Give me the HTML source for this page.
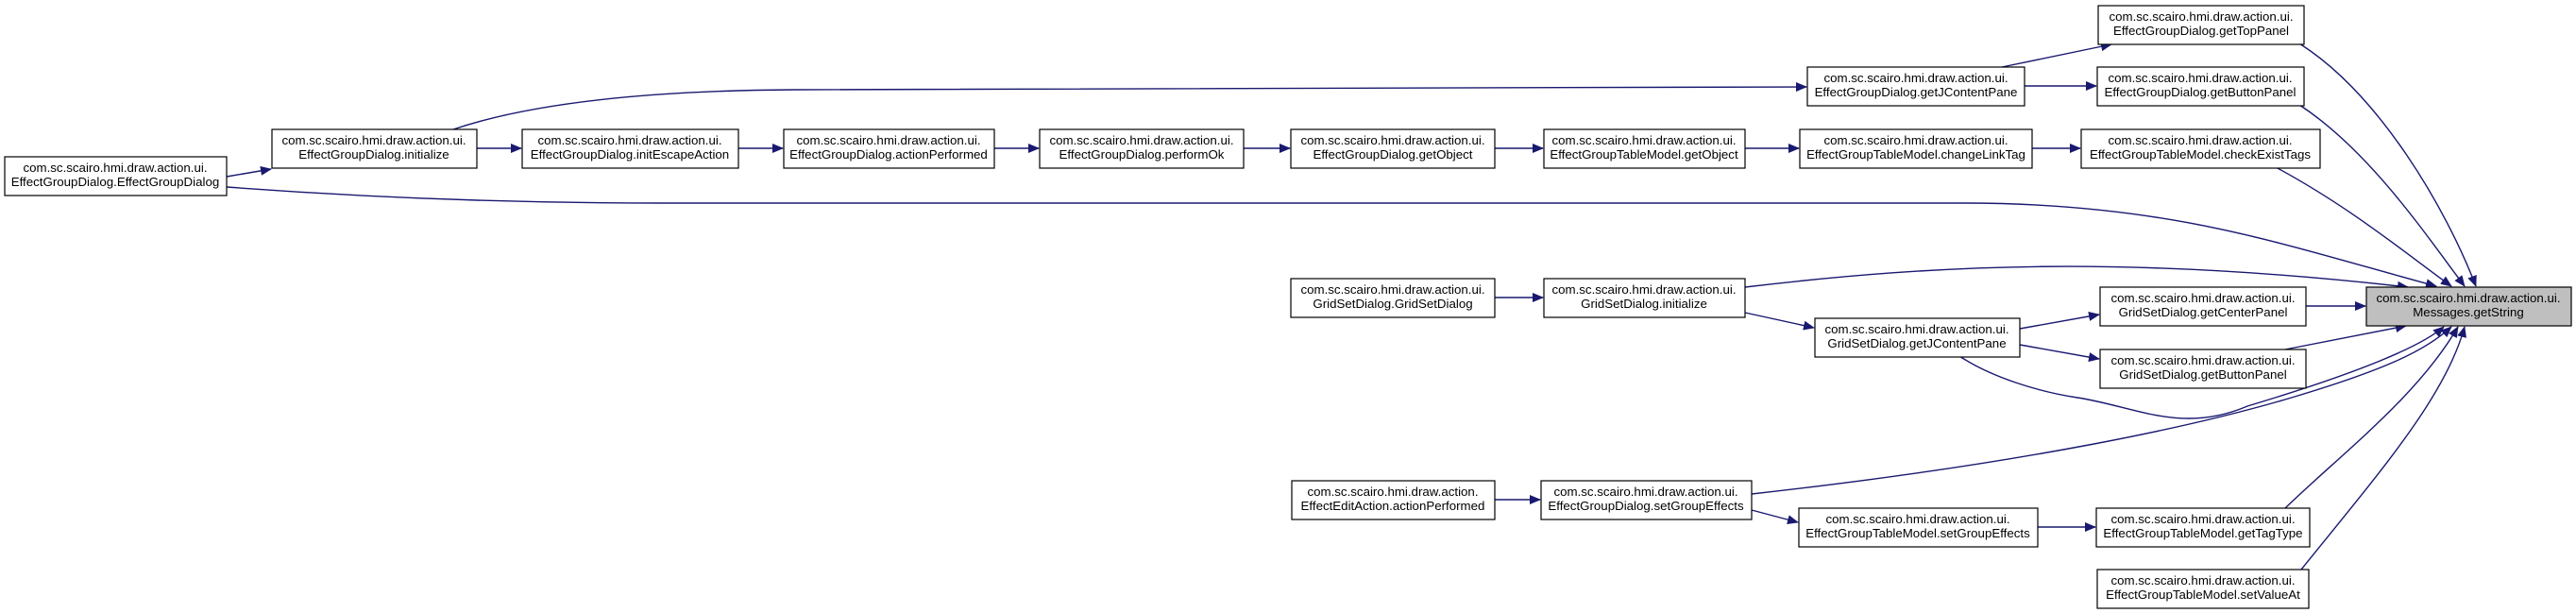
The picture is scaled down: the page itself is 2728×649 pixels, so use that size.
<!DOCTYPE html>
<html><head><meta charset="utf-8"><style>
html,body{margin:0;padding:0;background:#fff;}
svg{display:block;}
text{font-family:"Liberation Sans",sans-serif;font-size:13.3px;fill:#000;}
</style></head><body>
<svg width="2728" height="649" viewBox="0 0 2728 649" xmlns="http://www.w3.org/2000/svg">
<defs>
<marker id="a" markerWidth="12" markerHeight="10" refX="11" refY="5" orient="auto" markerUnits="userSpaceOnUse">
<path d="M0,0 L12,5 L0,10 Z" fill="#191970"/></marker>
</defs>
<g fill="none" stroke="#191970" stroke-width="1.4" marker-end="url(#a)">
<path d="M240,187 L287,179"/>
<path d="M505,157 L552,157"/>
<path d="M782,157 L829,157"/>
<path d="M1053,157 L1100,157"/>
<path d="M1317,157 L1366,157"/>
<path d="M1583,157 L1634,157"/>
<path d="M1848,157 L1905,157"/>
<path d="M2152,157 L2203,157"/>
<path d="M480,137 C560,110 680,96 840,95 L1913,92"/>
<path d="M2120,71 L2236,47"/>
<path d="M2144,91 L2220,91"/>
<path d="M2435,46 C2520,100 2590,220 2622,303"/>
<path d="M2435,111 C2510,160 2570,250 2610,303"/>
<path d="M2410,177 C2490,220 2550,270 2596,303"/>
<path d="M240,198 C400,210 560,215 700,215 L2080,215 C2300,215 2420,260 2580,303"/>
<path d="M1848,304 C2050,280 2250,270 2550,304"/>
<path d="M1583,315 L1634,315"/>
<path d="M1848,331 L1921,347"/>
<path d="M2139,348 L2223,333"/>
<path d="M2139,365 L2223,380"/>
<path d="M2442,324 L2505,324"/>
<path d="M2420,370 L2548,345"/>
<path d="M2075,377 C2110,400 2160,415 2200,421 C2260,430 2310,460 2380,430 C2480,400 2560,370 2588,346"/>
<path d="M1855,523 C2150,490 2330,450 2430,420 C2530,390 2570,370 2596,346"/>
<path d="M1583,529 L1631,529"/>
<path d="M1855,540 L1904,553"/>
<path d="M2158,558 L2219,558"/>
<path d="M2420,538 C2480,480 2560,420 2603,346"/>
<path d="M2437,603 C2520,500 2590,420 2610,346"/>
</g>
<g stroke="#000" stroke-width="1.2" fill="#fff">
<rect x="5" y="166" width="235" height="41"/>
<rect x="288" y="137" width="217" height="41"/>
<rect x="553" y="137" width="229" height="41"/>
<rect x="830" y="137" width="223" height="41"/>
<rect x="1101" y="137" width="216" height="41"/>
<rect x="1367" y="137" width="216" height="41"/>
<rect x="1635" y="137" width="213" height="41"/>
<rect x="1906" y="137" width="246" height="41"/>
<rect x="2204" y="137" width="253" height="41"/>
<rect x="1914" y="71" width="230" height="41"/>
<rect x="2222" y="6" width="218" height="41"/>
<rect x="2221" y="71" width="219" height="41"/>
<rect x="2506" y="304" width="217" height="41" fill="#bfbfbf"/>
<rect x="1367" y="295" width="216" height="41"/>
<rect x="1635" y="295" width="213" height="41"/>
<rect x="1922" y="337" width="217" height="41"/>
<rect x="2224" y="304" width="218" height="41"/>
<rect x="2224" y="370" width="218" height="41"/>
<rect x="1368" y="509" width="215" height="41"/>
<rect x="1632" y="509" width="223" height="41"/>
<rect x="1905" y="538" width="253" height="41"/>
<rect x="2220" y="538" width="226" height="41"/>
<rect x="2221" y="603" width="224" height="41"/>
</g>
<g text-anchor="middle">
<text x="122" y="182">com.sc.scairo.hmi.draw.action.ui.</text><text x="122" y="197">EffectGroupDialog.EffectGroupDialog</text>
<text x="396" y="153">com.sc.scairo.hmi.draw.action.ui.</text><text x="396" y="168">EffectGroupDialog.initialize</text>
<text x="667" y="153">com.sc.scairo.hmi.draw.action.ui.</text><text x="667" y="168">EffectGroupDialog.initEscapeAction</text>
<text x="941" y="153">com.sc.scairo.hmi.draw.action.ui.</text><text x="941" y="168">EffectGroupDialog.actionPerformed</text>
<text x="1209" y="153">com.sc.scairo.hmi.draw.action.ui.</text><text x="1209" y="168">EffectGroupDialog.performOk</text>
<text x="1475" y="153">com.sc.scairo.hmi.draw.action.ui.</text><text x="1475" y="168">EffectGroupDialog.getObject</text>
<text x="1741" y="153">com.sc.scairo.hmi.draw.action.ui.</text><text x="1741" y="168">EffectGroupTableModel.getObject</text>
<text x="2029" y="153">com.sc.scairo.hmi.draw.action.ui.</text><text x="2029" y="168">EffectGroupTableModel.changeLinkTag</text>
<text x="2330" y="153">com.sc.scairo.hmi.draw.action.ui.</text><text x="2330" y="168">EffectGroupTableModel.checkExistTags</text>
<text x="2029" y="87">com.sc.scairo.hmi.draw.action.ui.</text><text x="2029" y="102">EffectGroupDialog.getJContentPane</text>
<text x="2331" y="22">com.sc.scairo.hmi.draw.action.ui.</text><text x="2331" y="37">EffectGroupDialog.getTopPanel</text>
<text x="2330" y="87">com.sc.scairo.hmi.draw.action.ui.</text><text x="2330" y="102">EffectGroupDialog.getButtonPanel</text>
<text x="2614" y="320">com.sc.scairo.hmi.draw.action.ui.</text><text x="2614" y="335">Messages.getString</text>
<text x="1475" y="311">com.sc.scairo.hmi.draw.action.ui.</text><text x="1475" y="326">GridSetDialog.GridSetDialog</text>
<text x="1741" y="311">com.sc.scairo.hmi.draw.action.ui.</text><text x="1741" y="326">GridSetDialog.initialize</text>
<text x="2030" y="353">com.sc.scairo.hmi.draw.action.ui.</text><text x="2030" y="368">GridSetDialog.getJContentPane</text>
<text x="2333" y="320">com.sc.scairo.hmi.draw.action.ui.</text><text x="2333" y="335">GridSetDialog.getCenterPanel</text>
<text x="2333" y="386">com.sc.scairo.hmi.draw.action.ui.</text><text x="2333" y="401">GridSetDialog.getButtonPanel</text>
<text x="1475" y="525">com.sc.scairo.hmi.draw.action.</text><text x="1475" y="540">EffectEditAction.actionPerformed</text>
<text x="1743" y="525">com.sc.scairo.hmi.draw.action.ui.</text><text x="1743" y="540">EffectGroupDialog.setGroupEffects</text>
<text x="2031" y="554">com.sc.scairo.hmi.draw.action.ui.</text><text x="2031" y="569">EffectGroupTableModel.setGroupEffects</text>
<text x="2333" y="554">com.sc.scairo.hmi.draw.action.ui.</text><text x="2333" y="569">EffectGroupTableModel.getTagType</text>
<text x="2333" y="619">com.sc.scairo.hmi.draw.action.ui.</text><text x="2333" y="634">EffectGroupTableModel.setValueAt</text>
</g>
</svg>
</body></html>
